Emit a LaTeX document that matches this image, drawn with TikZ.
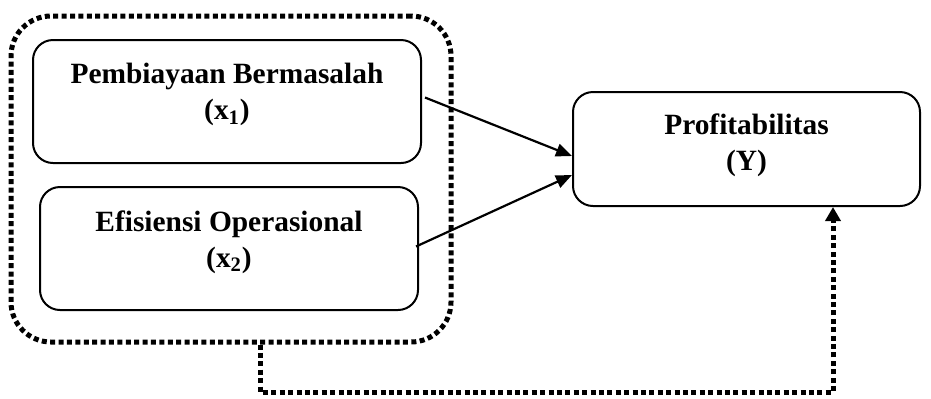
\documentclass[tikz,border=0pt]{standalone}
\usepackage{fontspec}
\setmainfont{Liberation Serif}
\usetikzlibrary{positioning, arrows.meta, calc}

\begin{document}
\begin{tikzpicture}[x=0.5pt, y=-0.5pt,
    varbox/.style={draw, line width=1pt, rounded corners=10pt, minimum height=61.5pt},
    vartext/.style={anchor=north, align=center, inner sep=0pt, yshift=-12pt,
      font=\bfseries\fontsize{14.7}{18}\selectfont},
    dotline/.style={line width=2.5pt, dash pattern=on 2.5pt off 1.7pt},
    arr/.style={-{Triangle[length=8pt,width=6.5pt]}, line width=1.1pt}]
    \useasboundingbox (0,0) rectangle (931,398);

    % Draw the group of independent variables
    \node[draw, dotline, rounded corners=20pt, minimum width=220pt, minimum height=163pt] (grp) at (231,179) {};

    % Draw variable boxes
    \node[varbox, minimum width=194pt, label={[vartext]north:Pembiayaan Bermasalah\\(x\textsubscript{1})}] (pb) at (227,101.5) {};
    \node[varbox, minimum width=189pt, label={[vartext]north:Efisiensi Operasional\\(x\textsubscript{2})}] (eo) at (229,248.5) {};
    \node[varbox, minimum width=173.5pt, minimum height=57pt, label={[vartext, yshift=1pt]north:Profitabilitas\\(Y)}] (prof) at (746.5,149) {};

    % Display the partial effects
    \draw[arr] ($(pb.east)+(3,-4)$) -- ($(prof.west)+(0,7)$);
    \draw[arr] ($(eo.east)+(-3,-2)$) -- ($(prof.west)+(0,26)$);

    % Display the joint effect
    \coordinate (c1) at (260,392);
    \coordinate (c2) at (833,392);
    \draw[dotline, -{Triangle[length=7pt,width=7.5pt]}] (grp.south -| c1) -- (c1) -- (c2) -- (c2 |- prof.south);
\end{tikzpicture}
\end{document}
